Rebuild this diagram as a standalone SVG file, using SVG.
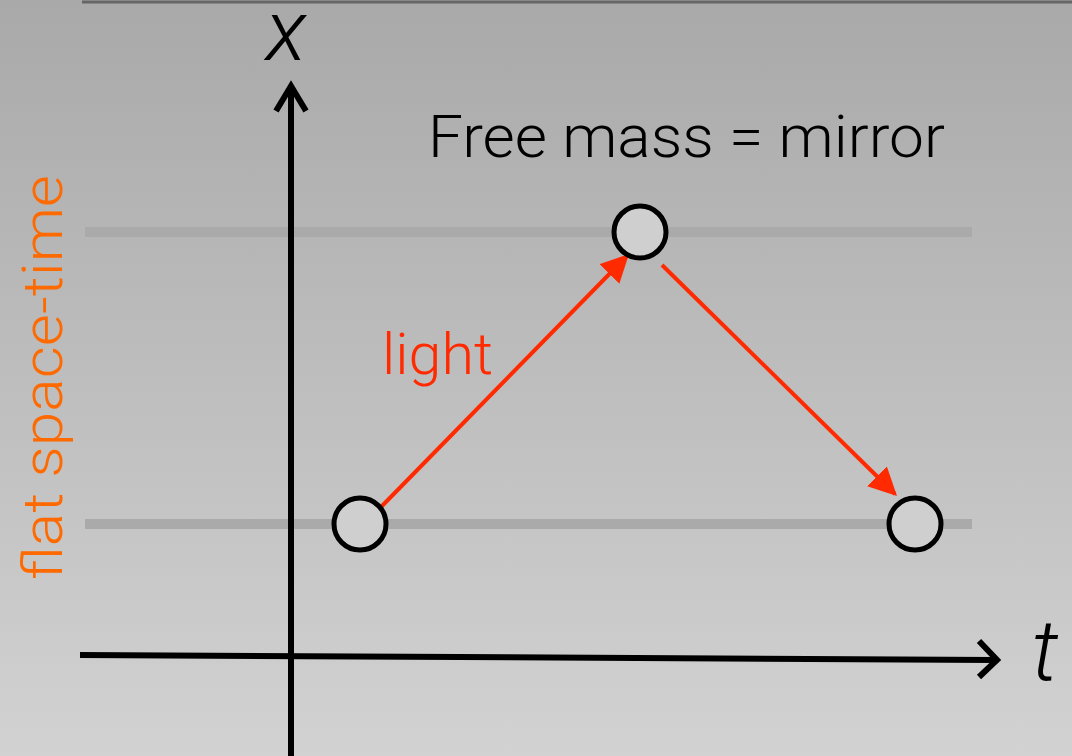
<svg xmlns="http://www.w3.org/2000/svg" width="1072" height="756" viewBox="0 0 1072 756">
<defs>
<linearGradient id="bg" x1="0" y1="0" x2="0" y2="1">
<stop offset="0" stop-color="#a9a9a9"/>
<stop offset="1" stop-color="#d2d2d2"/>
</linearGradient>
<marker id="redhead" viewBox="0 0 10 10" refX="9" refY="5" markerWidth="7" markerHeight="7" markerUnits="strokeWidth" orient="auto">
<path d="M0,0 L10,5 L0,10 Z" fill="#ff2a00"/>
</marker>
<style>
.grid{stroke:#aaaaaa;stroke-width:10;fill:none}
.axis{stroke:#000;stroke-width:6;fill:none;stroke-linecap:butt}
.head{stroke:#000;stroke-width:6;fill:none;stroke-linejoin:miter}
.light{stroke:#ff2a00;stroke-width:4;fill:none}
.mass{fill:#cfcfcf;stroke:#000;stroke-width:5}
.lbl{font-family:Roboto,"Liberation Sans",sans-serif;font-weight:300}
</style>
</defs>
<rect width="1072" height="756" fill="url(#bg)"/>
<line x1="82" y1="2" x2="1072" y2="2" stroke="#666" stroke-width="3"/>
<g id="gridlines">
<line class="grid" x1="85" y1="232" x2="972" y2="232"/>
<line class="grid" x1="85" y1="524" x2="972" y2="524"/>
</g>
<g id="axes">
<line class="axis" x1="291" y1="90" x2="291" y2="756"/>
<polyline class="head" points="276,111 291,86 306,111"/>
<line class="axis" x1="80" y1="655" x2="994" y2="660"/>
<polyline class="head" points="979,641 997,660 979,677"/>
<text class="lbl" x="286" y="60" font-size="86" font-style="italic" font-weight="400" text-anchor="middle" fill="#000">x</text>
<text class="lbl" x="1045" y="680" font-size="86" font-style="italic" font-weight="400" text-anchor="middle" fill="#000">t</text>
</g>
<g id="connectors">
<line class="light" x1="381" y1="507" x2="627" y2="256" marker-end="url(#redhead)"/>
<line class="light" x1="662" y1="265" x2="895" y2="494" marker-end="url(#redhead)"/>
</g>
<g id="mass1"><circle class="mass" cx="360" cy="524" r="26"/></g>
<g id="mass2"><circle class="mass" cx="640" cy="232" r="26"/></g>
<g id="mass3"><circle class="mass" cx="915" cy="524" r="26"/></g>
<g id="labels">
<text class="lbl" x="428" y="157" font-size="59" textLength="517" lengthAdjust="spacingAndGlyphs" fill="#000">Free mass = mirror</text>
<text class="lbl" x="382" y="374" font-size="58" textLength="111" lengthAdjust="spacingAndGlyphs" fill="#ff2a00">light</text>
<text class="lbl" transform="translate(62,580) rotate(-90)" x="0" y="0" font-size="56" textLength="405" lengthAdjust="spacingAndGlyphs" fill="#ff6a00">flat space-time</text>
</g>
</svg>
